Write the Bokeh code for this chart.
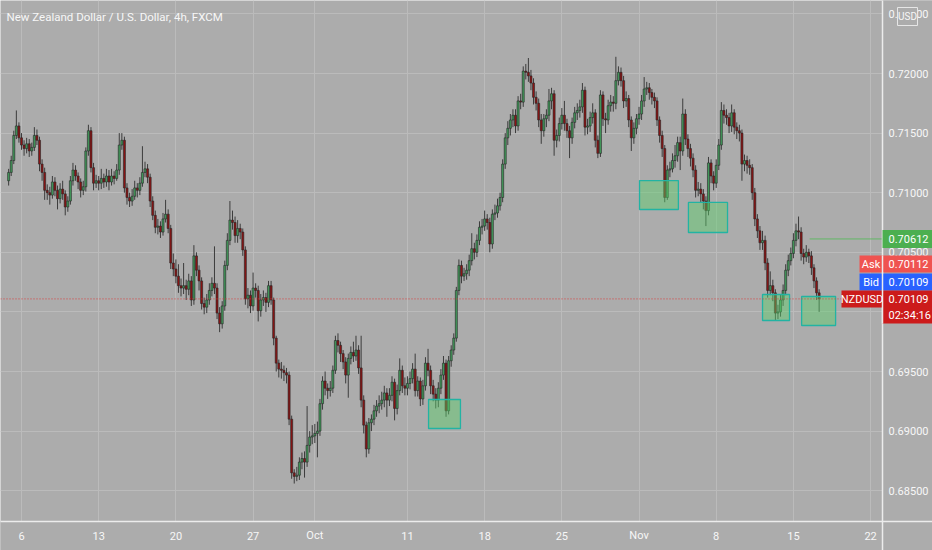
from bokeh.plotting import figure
from bokeh.models import Range1d, FixedTicker, Grid
from bokeh.core.properties import value
from bokeh.embed import file_html
from bokeh.resources import INLINE

TITLE = "New Zealand Dollar / U.S. Dollar, 4h, FXCM"

# ---- data (prices in pips, 4h bars; bar 0 = first bar of Mon 6 Sep) ----
first_bar = -5
first_open = 7110
close_pips = [
    7117, 7127, 7148, 7156, 7146,
    7140, 7137, 7141, 7135, 7138, 7148,
    7144, 7124, 7117, 7102, 7100, 7098,
    7109, 7102, 7095, 7103, 7099, 7088,
    7093, 7110, 7119, 7114, 7109, 7102,
    7105, 7135, 7152, 7121, 7108, 7110,
    7108, 7112, 7109, 7114, 7109, 7114,
    7112, 7119, 7140, 7144, 7104, 7096,
    7093, 7097, 7104, 7102, 7108, 7117,
    7120, 7113, 7093, 7081, 7071, 7072,
    7067, 7078, 7082, 7070, 7041, 7036,
    7030, 7022, 7020, 7022, 7019, 7026,
    7010, 7047, 7035, 7026, 7007, 7004,
    7010, 7018, 7024, 7020, 6999, 6990,
    7005, 7039, 7060, 7077, 7075, 7064,
    7070, 7067, 7052, 7011, 7014, 7005,
    7020, 7018, 7001, 7010, 7012, 7008,
    7022, 7010, 6978, 6957, 6952, 6951,
    6949, 6947, 6910, 6865, 6862, 6863,
    6874, 6877, 6874, 6888, 6895, 6896,
    6898, 6900, 6923, 6942, 6936, 6934,
    6936, 6951, 6976, 6972, 6965, 6958,
    6947, 6961, 6966, 6963, 6968, 6953,
    6926, 6905, 6885, 6907, 6910, 6917,
    6921, 6923, 6926, 6932, 6926, 6930,
    6941, 6919, 6934, 6951, 6938, 6936,
    6940, 6944, 6952, 6934, 6942, 6927,
    6938, 6957, 6951, 6938, 6931, 6926,
    6936, 6947, 6957, 6917, 6959, 6968,
    6978, 7018, 7039, 7030, 7032, 7035,
    7043, 7053, 7050, 7060, 7071, 7072,
    7078, 7075, 7057, 7082, 7083, 7089,
    7096, 7124, 7146, 7154, 7161, 7165,
    7156, 7177, 7176, 7202, 7201, 7198,
    7192, 7180, 7175, 7161, 7152, 7162,
    7165, 7177, 7183, 7144, 7148, 7158,
    7165, 7158, 7152, 7146, 7159, 7167,
    7169, 7172, 7186, 7155, 7156, 7163,
    7167, 7144, 7133, 7182, 7162, 7161,
    7173, 7176, 7175, 7194, 7201, 7194,
    7177, 7179, 7161, 7146, 7154, 7162,
    7166, 7177, 7187, 7188, 7184, 7180,
    7177, 7161, 7148, 7137, 7096, 7119,
    7120, 7127, 7131, 7142, 7135, 7166,
    7145, 7137, 7129, 7119, 7102, 7103,
    7099, 7093, 7085, 7125, 7114, 7108,
    7123, 7140, 7169, 7165, 7163, 7156,
    7167, 7155, 7152, 7150, 7124, 7127,
    7123, 7121, 7100, 7078, 7068, 7058,
    7060, 7041, 7018, 7022, 7016, 6999,
    7000, 7010, 7018, 7035, 7043, 7049,
    7060, 7068, 7067, 7049, 7046, 7050,
    7047, 7037, 7026, 7016, 7011,
]
high_pips = [
    7120, 7131, 7152, 7169, 7159,
    7150, 7144, 7146, 7145, 7142, 7155,
    7153, 7147, 7128, 7121, 7107, 7105,
    7114, 7113, 7106, 7108, 7110, 7102,
    7097, 7114, 7125, 7123, 7117, 7112,
    7110, 7138, 7157, 7155, 7125, 7115,
    7114, 7120, 7116, 7120, 7119, 7120,
    7118, 7124, 7150, 7150, 7147, 7108,
    7100, 7103, 7110, 7108, 7113, 7139,
    7126, 7124, 7116, 7097, 7085, 7078,
    7076, 7083, 7094, 7086, 7073, 7049,
    7044, 7040, 7028, 7041, 7027, 7032,
    7030, 7056, 7050, 7039, 7029, 7012,
    7015, 7024, 7029, 7055, 7024, 7004,
    7009, 7043, 7066, 7093, 7085, 7080,
    7077, 7074, 7070, 7055, 7020, 7018,
    7033, 7024, 7022, 7015, 7018, 7016,
    7026, 7026, 7012, 6980, 6960, 6958,
    6955, 6953, 6950, 6913, 6868, 6870,
    6878, 6882, 6883, 6921, 6900, 6905,
    6906, 6908, 6927, 6946, 6950, 6940,
    6942, 6955, 6980, 6982, 6975, 6968,
    6962, 6965, 6971, 6975, 6980, 6972,
    6980, 6930, 6908, 6911, 6914, 6922,
    6926, 6930, 6933, 6938, 6936, 6936,
    6946, 6944, 6939, 6961, 6955, 6945,
    6946, 6950, 6957, 6965, 6946, 6945,
    6943, 6962, 6969, 6955, 6943, 6936,
    6941, 6952, 6963, 6960, 6963, 6972,
    6982, 7021, 7044, 7043, 7037, 7040,
    7048, 7066, 7058, 7065, 7076, 7078,
    7085, 7082, 7079, 7086, 7090, 7095,
    7100, 7128, 7150, 7160, 7166, 7170,
    7170, 7181, 7183, 7206, 7208, 7213,
    7203, 7196, 7185, 7179, 7166, 7166,
    7170, 7187, 7188, 7186, 7153, 7163,
    7171, 7177, 7162, 7156, 7163, 7172,
    7175, 7178, 7192, 7189, 7162, 7168,
    7175, 7170, 7148, 7186, 7185, 7167,
    7178, 7182, 7181, 7214, 7206, 7205,
    7198, 7185, 7182, 7164, 7159, 7166,
    7172, 7182, 7197, 7193, 7192, 7187,
    7184, 7180, 7164, 7152, 7140, 7123,
    7126, 7133, 7140, 7147, 7147, 7179,
    7170, 7149, 7141, 7133, 7123, 7109,
    7108, 7103, 7097, 7130, 7128, 7118,
    7128, 7145, 7176, 7174, 7170, 7167,
    7174, 7170, 7159, 7157, 7153, 7132,
    7131, 7128, 7124, 7104, 7082, 7072,
    7068, 7064, 7045, 7034, 7027, 7019,
    7006, 7015, 7023, 7040, 7048, 7054,
    7066, 7074, 7080, 7071, 7053, 7056,
    7053, 7051, 7040, 7029, 7019,
]
low_pips = [
    7106, 7114, 7124, 7145, 7142,
    7136, 7131, 7133, 7130, 7131, 7135,
    7140, 7118, 7110, 7094, 7094, 7090,
    7095, 7097, 7086, 7091, 7094, 7081,
    7084, 7090, 7106, 7110, 7103, 7096,
    7098, 7101, 7131, 7117, 7102, 7104,
    7102, 7103, 7104, 7105, 7102, 7106,
    7107, 7110, 7115, 7136, 7100, 7090,
    7088, 7089, 7094, 7096, 7098, 7105,
    7113, 7108, 7088, 7077, 7066, 7065,
    7062, 7064, 7075, 7066, 7036, 7030,
    7024, 7016, 7013, 7015, 7010, 7014,
    7005, 7006, 7030, 7018, 7002, 6998,
    6999, 7006, 7013, 7015, 6994, 6983,
    6986, 7001, 7035, 7056, 7069, 7058,
    7058, 7061, 7047, 7006, 7003, 6999,
    7001, 7012, 6992, 6996, 7005, 7000,
    7004, 7006, 6972, 6950, 6945, 6944,
    6942, 6940, 6905, 6860, 6856, 6858,
    6859, 6868, 6861, 6870, 6882, 6889,
    6890, 6878, 6896, 6918, 6930, 6927,
    6929, 6932, 6948, 6966, 6958, 6952,
    6940, 6928, 6956, 6958, 6959, 6948,
    6920, 6898, 6878, 6881, 6900, 6905,
    6912, 6915, 6918, 6920, 6912, 6921,
    6925, 6909, 6914, 6930, 6932, 6930,
    6930, 6935, 6940, 6929, 6929, 6921,
    6922, 6934, 6946, 6931, 6925, 6919,
    6920, 6931, 6943, 6912, 6914, 6954,
    6964, 6975, 7014, 7024, 7026, 7027,
    7030, 7039, 7044, 7046, 7056, 7065,
    7068, 7069, 7050, 7053, 7077, 7079,
    7085, 7092, 7120, 7140, 7148, 7155,
    7150, 7152, 7170, 7172, 7195, 7193,
    7186, 7174, 7169, 7155, 7141, 7147,
    7155, 7160, 7170, 7131, 7138, 7143,
    7153, 7152, 7146, 7129, 7141, 7154,
    7161, 7163, 7167, 7148, 7149, 7151,
    7158, 7138, 7129, 7130, 7156, 7150,
    7157, 7168, 7168, 7170, 7190, 7189,
    7171, 7172, 7155, 7135, 7141, 7149,
    7157, 7161, 7172, 7182, 7178, 7174,
    7171, 7156, 7142, 7130, 7092, 7094,
    7113, 7117, 7121, 7126, 7119, 7131,
    7140, 7130, 7122, 7113, 7096, 7097,
    7092, 7086, 7072, 7081, 7108, 7102,
    7104, 7119, 7136, 7158, 7157, 7150,
    7151, 7149, 7145, 7143, 7110, 7118,
    7116, 7115, 7094, 7072, 7062, 7052,
    7052, 7035, 7012, 7014, 7009, 6993,
    6994, 6996, 7005, 7014, 7030, 7039,
    7045, 7055, 7061, 7043, 7040, 7042,
    7041, 7031, 7020, 7010, 7000,
]

date_tick_bars = [0, 30, 60, 90, 114, 150, 180, 210, 240, 270, 300, 330]
date_tick_labels = ["6", "13", "20", "27", "Oct", "11", "18", "25", "Nov", "8", "15", "22"]
price_ticks = [0.685, 0.690, 0.695, 0.700, 0.705, 0.710, 0.715, 0.720, 0.725]

zone_start = [158.2, 240.2, 259.2, 288.0, 303.2]
zone_end = [170.6, 255.3, 274.4, 298.5, 316.4]
zone_top = [0.69265, 0.71102, 0.70918, 0.70146, 0.70129]
zone_bottom = [0.69022, 0.70859, 0.70666, 0.69928, 0.69886]

level_price = 0.70612
level_start = 306.3
ask_price = 0.70112
bid_price = 0.70109
last_price = 0.70109
countdown = "02:34:16"
symbol = "NZDUSD"
currency = "USD"

# ---- styling ----
BG = "#acacac"
GRID = "#bbbbbb"
AXIS = "#ececec"
TXT = "#f7f7f7"
UP = "#42985a"
DOWN = "#8a1414"
WICK = "#3c3c3c"
EDGE = "#262626"
FONT = "Roboto"

W, H = 932, 550
PX_PER_BAR = 2.573
PX_PER_PRICE = 59.6 / 0.005


def sx(X):
    return (X - 21.0) / PX_PER_BAR


def sy(Y):
    return 0.72 - (Y - 73.0) / PX_PER_PRICE


p = figure(width=W, height=H,
           x_range=Range1d(sx(0), sx(W)), y_range=Range1d(sy(H), sy(0)),
           output_backend="svg", toolbar_location=None,
           x_axis_location=None, y_axis_location=None, min_border=0)
p.background_fill_color = BG
p.border_fill_color = BG
p.outline_line_color = None
for g in list(p.grid):
    g.visible = False

p.add_layout(Grid(dimension=0, ticker=FixedTicker(ticks=date_tick_bars),
                  grid_line_color=GRID, grid_line_width=1))
p.add_layout(Grid(dimension=1, ticker=FixedTicker(ticks=price_ticks),
                  grid_line_color=GRID, grid_line_width=1))

n = min(len(close_pips), len(high_pips), len(low_pips))
closes = [c / 10000 for c in close_pips[:n]]
opens = [first_open / 10000] + closes[:-1]
highs = [max(h / 10000, o, c) for h, o, c in zip(high_pips[:n], opens, closes)]
lows = [min(l / 10000, o, c) for l, o, c in zip(low_pips[:n], opens, closes)]
xs = [first_bar + k for k in range(n)]
tops = [max(o, c) for o, c in zip(opens, closes)]
bots = [min(o, c) for o, c in zip(opens, closes)]
cols = [UP if c >= o else DOWN for o, c in zip(opens, closes)]

p.segment(x0=xs, y0=lows, x1=xs, y1=highs, line_color=WICK, line_width=1)
p.vbar(x=xs, width=0.8, top=tops, bottom=bots, fill_color=cols,
       line_color=EDGE, line_width=0.6)

# demand zones
p.quad(left=zone_start, right=zone_end, top=zone_top, bottom=zone_bottom,
       fill_color="#5cd06a", fill_alpha=0.45, line_color="#22b3a3", line_width=1.3)

# price lines
p.segment(x0=[sx(0)], y0=[last_price], x1=[sx(882)], y1=[last_price],
          line_color="#d83c3c", line_width=1, line_dash="1 2")
p.segment(x0=[level_start], y0=[level_price], x1=[sx(882)], y1=[level_price],
          line_color="#62b866", line_width=1)

# axis areas
p.quad(left=[sx(882)], right=[sx(W + 10)], top=[sy(-10)], bottom=[sy(H + 10)],
       fill_color=BG, line_color=None)
p.quad(left=[sx(-10)], right=[sx(W + 10)], top=[sy(521)], bottom=[sy(H + 10)],
       fill_color=BG, line_color=None)
p.segment(x0=[sx(-10)], y0=[sy(521)], x1=[sx(W + 10)], y1=[sy(521)],
          line_color=AXIS, line_width=1.5)
p.segment(x0=[sx(882)], y0=[sy(-10)], x1=[sx(882)], y1=[sy(H + 10)],
          line_color=AXIS, line_width=1.5)

FS = "11px"
p.text(x=[sx(888)] * len(price_ticks), y=price_ticks,
       text=[f"{t:.5f}" for t in price_ticks], text_align="left",
       text_baseline="middle", text_font_size=FS, text_color=TXT,
       text_font=value(FONT))
p.text(x=date_tick_bars, y=[sy(535)] * len(date_tick_bars), text=date_tick_labels,
       text_align="center", text_baseline="middle", text_font_size=FS,
       text_color=TXT, text_font=value(FONT))

# currency badge
p.quad(left=[sx(897)], right=[sx(917)], top=[sy(7)], bottom=[sy(25)],
       fill_color=BG, line_color="#e6e6e6", line_width=1)
p.text(x=[sx(907)], y=[sy(16)], text=[currency], text_align="center",
       text_baseline="middle", text_font_size="10px", text_color=TXT,
       text_font=value(FONT))

# price labels on the scale
half = 9.0 / PX_PER_PRICE
p.quad(left=[sx(882)], right=[sx(W + 10)], top=[level_price + half], bottom=[level_price - half],
       fill_color="#4caf50", line_color=None)
p.quad(left=[sx(859), sx(882)], right=[sx(882), sx(W + 10)], top=[sy(255)] * 2,
       bottom=[sy(272)] * 2, fill_color="#ef5350", line_color=None)
p.quad(left=[sx(859), sx(882)], right=[sx(882), sx(W + 10)], top=[sy(273)] * 2,
       bottom=[sy(290)] * 2, fill_color="#2962ff", line_color=None)
p.quad(left=[sx(841), sx(882)], right=[sx(882), sx(W + 10)], top=[sy(290)] * 2,
       bottom=[sy(307), sy(323)], fill_color="#cc1b1b", line_color=None)
p.segment(x0=[sx(882)], y0=[sy(255)], x1=[sx(882)], y1=[sy(323)],
          line_color=AXIS, line_width=1.5)

p.text(x=[sx(888)], y=[level_price], text=[f"{level_price:.5f}"],
       text_align="left", text_baseline="middle", text_font_size=FS,
       text_color="#ffffff", text_font=value(FONT))
p.text(x=[sx(870.5), sx(870.5), sx(861.5)], y=[sy(263.5), sy(281.5), sy(298.5)],
       text=["Ask", "Bid", symbol], text_align="center", text_baseline="middle",
       text_font_size=FS, text_color="#ffffff", text_font=value(FONT))
p.text(x=[sx(888)] * 4, y=[sy(263.5), sy(281.5), sy(298.5), sy(314.5)],
       text=[f"{ask_price:.5f}", f"{bid_price:.5f}", f"{last_price:.5f}", countdown],
       text_align="left", text_baseline="middle", text_font_size=FS,
       text_color="#ffffff", text_font=value(FONT))

# title
p.text(x=[sx(6)], y=[sy(16)], text=[TITLE], text_align="left", text_baseline="middle",
       text_font_size="11.5px", text_color=TXT, text_font=value(FONT))

open("out.html", "w").write(file_html(p, INLINE))
